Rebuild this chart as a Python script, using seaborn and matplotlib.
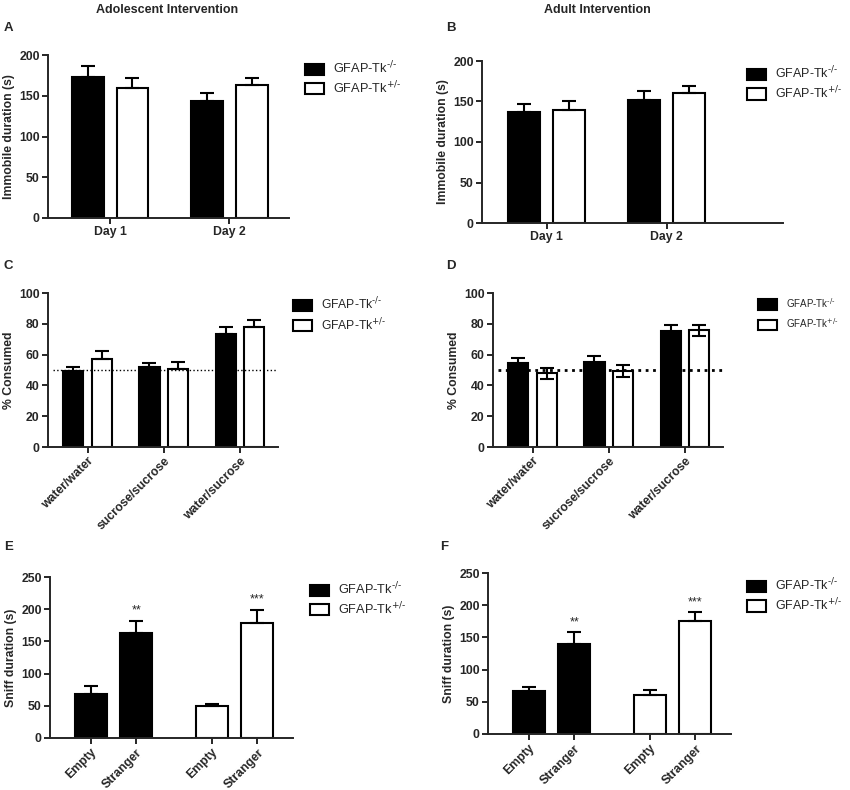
import pandas as pd
import seaborn as sns
import matplotlib.pyplot as plt
from matplotlib.patches import Patch

sns.set_theme(style="ticks")
plt.rcParams["font.family"] = ["Liberation Sans", "DejaVu Sans"]
plt.rcParams["mathtext.default"] = "regular"

genotypes = ["GFAP-Tk-/-", "GFAP-Tk+/-"]
legend_labels = [r"GFAP-Tk$^{\text{-/-}}$", r"GFAP-Tk$^{\text{+/-}}$"]
bar_colors = ["black", "white"]

# A / B: forced swim, immobile duration (s)
days = ["Day 1", "Day 2"]
adol_immob_ko = [173, 144]
adol_immob_ko_sem = [13, 9]
adol_immob_het = [160, 163]
adol_immob_het_sem = [12, 9]
adult_immob_ko = [137, 152]
adult_immob_ko_sem = [10, 11]
adult_immob_het = [140, 161]
adult_immob_het_sem = [10, 8]

# C / D: sucrose preference, % consumed
pref_groups = ["water/water", "sucrose/sucrose", "water/sucrose"]
adol_pref_ko = [49.5, 51.7, 73.5]
adol_pref_ko_sem = [2.5, 2.6, 4.3]
adol_pref_het = [57.0, 50.6, 77.8]
adol_pref_het_sem = [5.4, 4.4, 4.4]
adult_pref_ko = [54.3, 55.2, 75.4]
adult_pref_ko_sem = [3.7, 4.1, 3.7]
adult_pref_het = [47.8, 49.6, 75.7]
adult_pref_het_sem = [3.5, 3.9, 3.5]
chance_level = 50

# E / F: social interaction, sniff duration (s)
chambers = ["Empty", "Stranger"]
adol_sniff_ko = [68.6, 163.4]
adol_sniff_ko_sem = [12.8, 18.6]
adol_sniff_het = [49.0, 177.8]
adol_sniff_het_sem = [4.0, 21.7]
adult_sniff_ko = [66.3, 139.8]
adult_sniff_ko_sem = [6.7, 18.6]
adult_sniff_het = [60.0, 175.0]
adult_sniff_het_sem = [8.8, 14.0]
sniff_stars = ["", "**", "", "***"]

W, H = 850, 790
fig = plt.figure(figsize=(8.5, 7.9), dpi=100)


def px_axes(x0, y0, x1, y1):
    return fig.add_axes([x0 / W, 1 - y1 / H, (x1 - x0) / W, (y1 - y0) / H])


def style_axes(ax, ylabel, yticks):
    for side in ["top", "right"]:
        ax.spines[side].set_visible(False)
    for side in ["left", "bottom"]:
        ax.spines[side].set_linewidth(1.4)
    ax.tick_params(axis="both", width=1.4, length=4, labelsize=8.8, pad=2)
    ax.set_yticks(yticks)
    ax.set_ylim(yticks[0], yticks[-1])
    ax.set_ylabel(ylabel, fontsize=8.8, fontweight="bold", labelpad=3)
    ax.set_xlabel("")
    for lab in ax.get_xticklabels() + ax.get_yticklabels():
        lab.set_fontweight("bold")


def add_legend(x, y, fs):
    # square ~14pt wide, ~9pt tall, rows ~13pt apart whatever the font size
    handles = [Patch(facecolor=c, edgecolor="black", linewidth=1.5) for c in bar_colors]
    fig.legend(handles, legend_labels, loc="upper left",
               bbox_to_anchor=(x / W, 1 - y / H), frameon=False,
               borderpad=0, borderaxespad=0, handlelength=14 / fs,
               handleheight=9 / fs, handletextpad=6 / fs,
               labelspacing=max(0.05, (13.5 - 1.25 * fs) / fs),
               fontsize=fs)


def grouped_bars(ax, groups, ko, ko_sem, het, het_sem, both_sides=False):
    n = len(groups)
    df = pd.DataFrame({
        "group": groups * 2,
        "genotype": [genotypes[0]] * n + [genotypes[1]] * n,
        "value": ko + het,
        "sem": ko_sem + het_sem,
    })
    sns.barplot(data=df, x="group", y="value", hue="genotype", order=groups,
                hue_order=genotypes, palette=bar_colors, saturation=1,
                edgecolor="black", linewidth=1.5, width=0.75, gap=0.29,
                errorbar=None, legend=False, ax=ax)
    for cont, g in zip(ax.containers, genotypes):
        sub = df[df["genotype"] == g]
        xs = [p.get_x() + p.get_width() / 2 for p in cont]
        lower = sub["sem"] if both_sides else [0] * n
        ax.errorbar(xs, sub["value"], yerr=[lower, sub["sem"]], fmt="none",
                    ecolor="black", elinewidth=1.5, capsize=5, capthick=1.5,
                    zorder=5)
    ax.set_xlim(-0.52, n - 0.5)


sniff_positions = [0, 1, 2.65, 3.65]


def sniff_bars(ax, ko, ko_sem, het, het_sem):
    df = pd.DataFrame({
        "pos": sniff_positions,
        "genotype": [genotypes[0]] * 2 + [genotypes[1]] * 2,
        "value": ko + het,
        "sem": ko_sem + het_sem,
    })
    sns.barplot(data=df, x="pos", y="value", hue="genotype",
                hue_order=genotypes, palette=bar_colors, saturation=1,
                native_scale=True, dodge=False, edgecolor="black",
                linewidth=1.5, width=0.7, errorbar=None, legend=False, ax=ax)
    ax.errorbar(df["pos"], df["value"], yerr=[[0] * 4, df["sem"]], fmt="none",
                ecolor="black", elinewidth=1.5, capsize=5, capthick=1.5,
                zorder=5)
    for x, v, s, star in zip(df["pos"], df["value"], df["sem"], sniff_stars):
        if star:
            ax.text(x, v + s + 6, star, ha="center", va="bottom", fontsize=9)
    ax.set_xlim(-0.89, 4.43)
    ax.set_xticks(sniff_positions, chambers * 2, rotation=45, ha="right",
                  rotation_mode="anchor")


# Panel A
axA = px_axes(48, 55, 289, 218)
grouped_bars(axA, days, adol_immob_ko, adol_immob_ko_sem,
             adol_immob_het, adol_immob_het_sem)
style_axes(axA, "Immobile duration (s)", [0, 50, 100, 150, 200])
add_legend(305, 60, 9.2)

# Panel B
axB = px_axes(482, 61, 783, 223)
grouped_bars(axB, days, adult_immob_ko, adult_immob_ko_sem,
             adult_immob_het, adult_immob_het_sem)
axB.set_xlim(-0.54, 1.97)
style_axes(axB, "Immobile duration (s)", [0, 50, 100, 150, 200])
add_legend(747, 65, 9.0)

# Panel C
axC = px_axes(48, 293, 278, 447)
grouped_bars(axC, pref_groups, adol_pref_ko, adol_pref_ko_sem,
             adol_pref_het, adol_pref_het_sem)
axC.axhline(chance_level, xmin=0.02, xmax=1, color="black", linestyle=":",
            linewidth=1.0, zorder=6)
axC.set_xticks(range(3), pref_groups, rotation=45, ha="right",
               rotation_mode="anchor")
style_axes(axC, "% Consumed", [0, 20, 40, 60, 80, 100])
add_legend(293, 296, 8.7)

# Panel D
axD = px_axes(493, 293, 723, 447)
grouped_bars(axD, pref_groups, adult_pref_ko, adult_pref_ko_sem,
             adult_pref_het, adult_pref_het_sem, both_sides=True)
axD.axhline(chance_level, xmin=0.02, xmax=1, color="black", linestyle=":",
            linewidth=2.0, zorder=6)
axD.set_xticks(range(3), pref_groups, rotation=45, ha="right",
               rotation_mode="anchor")
style_axes(axD, "% Consumed", [0, 20, 40, 60, 80, 100])
add_legend(758, 296, 7.0)

# Panel E
axE = px_axes(50, 577, 293, 738)
sniff_bars(axE, adol_sniff_ko, adol_sniff_ko_sem,
           adol_sniff_het, adol_sniff_het_sem)
style_axes(axE, "Sniff duration (s)", [0, 50, 100, 150, 200, 250])
add_legend(310, 581, 9.2)

# Panel F
axF = px_axes(488, 573, 731, 734)
sniff_bars(axF, adult_sniff_ko, adult_sniff_ko_sem,
           adult_sniff_het, adult_sniff_het_sem)
style_axes(axF, "Sniff duration (s)", [0, 50, 100, 150, 200, 250])
add_legend(747, 577, 9.0)

# Column titles and panel letters
fig.text(167 / W, 1 - 10 / H, "Adolescent Intervention", ha="center",
         va="center", fontsize=9, fontweight="bold")
fig.text(597 / W, 1 - 10 / H, "Adult Intervention", ha="center",
         va="center", fontsize=9, fontweight="bold")
for letter, x, y in [("A", 4, 28), ("B", 446, 28), ("C", 4, 266),
                     ("D", 446, 266), ("E", 4, 547), ("F", 440, 547)]:
    fig.text(x / W, 1 - y / H, letter, ha="left", va="center",
             fontsize=9.5, fontweight="bold")

fig.savefig("out.png", dpi=100, facecolor="white")
